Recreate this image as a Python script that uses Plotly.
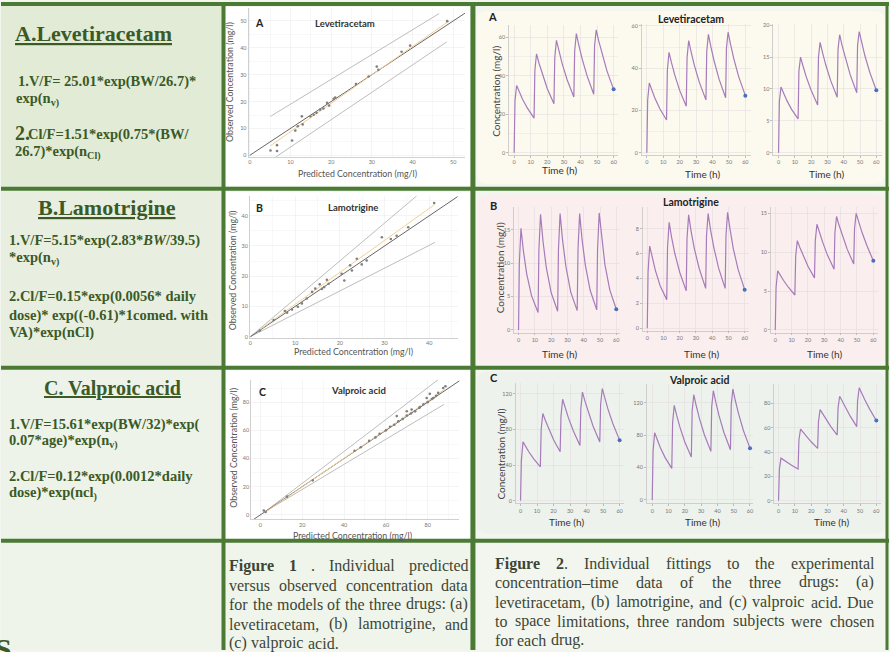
import plotly.graph_objects as go

W, H = 890, 652

# ---------------- Figure 1 data: predicted vs observed (mg/l) ----------------
lev_pred = [5.1, 6.7, 6.7, 10.4, 11.2, 11.8, 12.8, 13.0, 14.9, 15.7, 16.4, 17.3, 18.1, 19.0,
            19.5, 20.6, 21.0, 26.1, 29.2, 31.2, 31.6, 37.3, 39.4, 48.5]
lev_obs = [1.8, 3.8, 1.6, 5.5, 9.2, 10.8, 14.5, 11.5, 14.5, 15.1, 15.8, 17.0, 17.4, 19.5,
           18.5, 21.0, 21.5, 26.5, 29.3, 33.0, 31.8, 38.5, 40.8, 49.9]
ltg_pred = [2.1, 5.2, 7.7, 8.2, 9.3, 10.6, 11.5, 12.6, 13.8, 14.5, 15.5, 16.0, 16.5, 17.1, 17.5,
            20.4, 21.0, 22.3, 22.7, 23.8, 24.9, 26.0, 29.4, 31.4, 32.7, 35.3, 41.1]
ltg_obs = [2.0, 5.5, 8.5, 7.9, 9.0, 9.9, 11.0, 12.6, 14.8, 15.9, 17.3, 15.8, 16.4, 18.8, 17.5,
           20.8, 18.6, 23.6, 21.9, 25.8, 23.9, 25.2, 32.9, 32.3, 33.4, 36.2, 44.2]
vpa_pred = [1.6, 2.5, 12.7, 25, 45, 48, 52, 55, 57, 60, 62, 64, 65.2, 66, 68, 70, 70, 72, 72.3,
            74, 76, 76.3, 78, 79.5, 80, 81, 82, 82.7, 84, 85, 87.4, 88.5]
vpa_obs = [3.1, 2.0, 12.9, 24.5, 45.5, 48, 52.5, 55, 57.5, 60, 62.5, 64, 70.1, 66.5, 68, 70.5,
           73.6, 72, 74.8, 73.5, 76, 76.5, 78.5, 83, 80, 85.9, 82.3, 83, 84.5, 86.6, 90.1, 91.3]

# reference lines (x pair, y pair)
lev_identity = [0, 53.5]
lev_upper_x, lev_upper_y = [5.1, 46.5], [14.5, 52.7]
lev_lower_x, lev_lower_y = [6.5, 48.4], [-0.5, 42.2]
lev_fit_x, lev_fit_y = [5, 49], [3.5, 50]
ltg_identity = [0, 46.4]
ltg_upper_x, ltg_upper_y = [0, 37.2], [0, 46.6]
ltg_lower_x, ltg_lower_y = [0, 41.3], [0, 31.2]
ltg_fit_x, ltg_fit_y = [2, 41], [2.2, 43.5]
vpa_identity = [-4.4, 95.5]
vpa_upper_x, vpa_upper_y = [2, 85], [2, 96]
vpa_lower_x, vpa_lower_y = [2, 87.8], [2, 78.4]
vpa_fit_x, vpa_fit_y = [2, 88], [1.5, 89]

# ---------------- Figure 2 data: concentration-time (mg/l) ----------------
time_h = [0, 0.5, 1.5, 3, 5, 8, 12, 12.5, 13.5, 15, 17, 20, 24, 24.5, 25.5, 27, 29, 32, 36,
          36.5, 37.5, 39, 41, 44, 48, 48.5, 49.5, 51, 53, 56, 60]
lev_s1 = [0, 27, 35, 31.8, 28.0, 23.2, 18, 43, 51.5, 46.6, 40.8, 33.3, 25.5, 49.5, 58.5, 52.9,
          46.3, 37.9, 29, 53, 62, 56.0, 48.9, 40.0, 30.5, 55.5, 64, 58.2, 51.3, 42.5, 33]
lev_s2 = [0, 25, 33, 29.6, 25.6, 20.7, 15.5, 39, 47.5, 42.6, 36.8, 29.5, 22, 45, 53, 47.6,
          41.2, 33.3, 25, 48, 56, 50.2, 43.4, 34.8, 26, 49.5, 57, 51.2, 44.4, 35.9, 27]
lev_s3 = [0, 8, 10.3, 9.4, 8.25, 6.8, 5.3, 12.8, 15, 13.6, 11.9, 9.8, 7.5, 15, 17.3, 15.7,
          13.75, 11.3, 8.7, 16.2, 18.5, 16.8, 14.8, 12.2, 9.4, 16.8, 19, 17.3, 15.2, 12.6, 9.8]
ltg_s1 = [0, 10, 15.2, 11.8, 8.4, 5.1, 2.6, 12, 17.3, 13.3, 9.4, 5.6, 2.8, 12, 17.4, 13.5,
          9.6, 5.7, 2.9, 12, 17.4, 13.5, 9.7, 5.9, 3.0, 12, 17.5, 13.7, 9.8, 6.0, 3.1]
ltg_s2 = [0, 4.5, 6.6, 5.7, 4.65, 3.4, 2.3, 6.5, 8.5, 7.3, 6.0, 4.5, 3.0, 7.2, 9.1, 7.8, 6.4,
          4.8, 3.2, 7.4, 9.2, 7.9, 6.5, 4.8, 3.2, 7.4, 9.3, 7.95, 6.4, 4.7, 3.1]
ltg_s3 = [0, 5.5, 7.6, 7.05, 6.4, 5.5, 4.5, 9.5, 11.5, 10.65, 9.6, 8.2, 6.7, 11.5, 13.6, 12.6,
          11.3, 9.6, 7.8, 12.5, 14.6, 13.5, 12.2, 10.4, 8.5, 13.0, 15.0, 13.9, 12.6, 10.9, 8.9]
vpa_s1 = [0, 45, 66, 61, 54.9, 46.9, 38, 80, 98, 90.3, 80.9, 68.5, 55, 95, 114, 104.5, 93.0,
          78.2, 62, 103, 122, 111.8, 99.4, 83.4, 66, 108, 126, 115.4, 102.6, 86.1, 68]
vpa_s2 = [0, 60, 83, 74.5, 64.5, 52.0, 39, 95, 117, 104.5, 89.9, 71.7, 53, 110, 130, 116.4,
          100.5, 80.6, 60, 115, 135, 120.8, 104.2, 83.4, 62, 118, 137, 122.9, 106.3, 85.5, 64]
vpa_s3 = [0, 26, 35, 33.5, 31.7, 29.1, 26, 50, 59, 56.4, 53.1, 48.5, 43, 65, 75, 71.6, 67.2,
          61.2, 54, 76, 86, 81.9, 76.7, 69.6, 61, 82, 93, 88.5, 83.0, 75.2, 66]

# ---------------- helpers ----------------
def px(p):
    return p / W


def py(p):
    return 1 - p / H


GREEN_TXT = "#3b5a26"
BORDER = "#4b7a35"
CAP = "#3d4535"
SANS = "Lato, Open Sans, sans-serif"
SERIF = "Liberation Serif, Times New Roman, serif"

fig = go.Figure()
layout_axes = {}

# panel geometry: (dom_x0, dom_x1, x_zero_px, px_per_x, dom_ytop, dom_ybot, y_zero_px, px_per_y, xdtick, ydtick, yminor)
scatter_geo = [
    (248, 465, 249.3, 4.08, 6, 156, 154.3, 2.706, 10, 10, 5),
    (249.3, 457.7, 250, 4.48, 195, 337.7, 336.7, 3.04, 10, 10, 5),
    (250.7, 459.3, 260, 2.096, 380, 520.3, 516, 1.417, 20, 20, 10),
]
time_geo = [
    (509.3, 618.3, 514.3, 1.662, 22.7, 154, 151.7, 1.933, 10, 20, 10),
    (642.3, 751.7, 647.3, 1.645, 22.3, 154, 151.7, 2.128, 10, 20, 10),
    (774, 883.3, 779.3, 1.633, 22.3, 154, 151.7, 6.42, 10, 5, None),
    (514.3, 620, 518.7, 1.633, 206.7, 332.7, 330, 6.73, 10, 5, None),
    (643.3, 750, 647.7, 1.627, 206.7, 330.7, 328.3, 12.54, 10, 2, None),
    (771.7, 879.3, 776, 1.638, 206.7, 332.7, 330, 7.82, 10, 5, None),
    (516, 624, 520.7, 1.655, 383.3, 504.3, 501.7, 0.895, 10, 40, None),
    (647.3, 754, 652.7, 1.633, 384.3, 504.3, 501, 0.814, 10, 40, None),
    (775, 881.7, 779.3, 1.633, 384.3, 504.3, 501.7, 1.221, 10, 20, None),
]


def add_axes(i, g, scatter):
    dx0, dx1, x0p, sx, dyt, dyb, y0p, sy, xd, yd, ymin = g
    grid = "#ececec" if scatter else "#e3dede"
    tk = dict(ticks="") if scatter else dict(ticks="outside", ticklen=2, tickcolor="#bbb")
    xa = dict(domain=[px(dx0), px(dx1)], range=[(dx0 - x0p) / sx, (dx1 - x0p) / sx],
              anchor="y" if i == 1 else f"y{i}", tick0=0, dtick=xd,
              tickfont=dict(size=5.5, color="#777", family=SANS),
              showgrid=True, gridcolor=grid, gridwidth=0.6, zeroline=False,
              showline=True, linecolor="#c4c4c4", linewidth=0.8, fixedrange=True, **tk)
    ya = dict(domain=[py(dyb), py(dyt)], range=[(y0p - dyb) / sy, (y0p - dyt) / sy],
              anchor="x" if i == 1 else f"x{i}", tick0=0, dtick=yd,
              tickfont=dict(size=5.5, color="#777", family=SANS),
              showgrid=True, gridcolor=grid, gridwidth=0.6, zeroline=False,
              showline=True, linecolor="#c4c4c4", linewidth=0.8, fixedrange=True, **tk)
    if scatter:
        xa["minor"] = dict(dtick=xd / 2, tick0=0, showgrid=True, gridcolor="#f3f3f3")
        ya["minor"] = dict(dtick=ymin, tick0=0, showgrid=True, gridcolor="#f3f3f3")
    elif ymin:
        ya["minor"] = dict(dtick=ymin, tick0=0, showgrid=True, gridcolor="#ebe6e6")
    layout_axes["xaxis" if i == 1 else f"xaxis{i}"] = xa
    layout_axes["yaxis" if i == 1 else f"yaxis{i}"] = ya
    return ("x" if i == 1 else f"x{i}"), ("y" if i == 1 else f"y{i}")


scatter_sets = [
    (lev_pred, lev_obs, lev_identity, lev_upper_x, lev_upper_y, lev_lower_x, lev_lower_y, lev_fit_x, lev_fit_y),
    (ltg_pred, ltg_obs, ltg_identity, ltg_upper_x, ltg_upper_y, ltg_lower_x, ltg_lower_y, ltg_fit_x, ltg_fit_y),
    (vpa_pred, vpa_obs, vpa_identity, vpa_upper_x, vpa_upper_y, vpa_lower_x, vpa_lower_y, vpa_fit_x, vpa_fit_y),
]
for k, (g, s) in enumerate(zip(scatter_geo, scatter_sets)):
    xr, yr = add_axes(k + 1, g, True)
    pred, obs, ident, ux, uy, lx, ly, fx, fy = s
    for xs, ys, col, wd in [(ux, uy, "#bdbdbd", 1.0), (lx, ly, "#bdbdbd", 1.0),
                            (ident, ident, "#666666", 1.0), (fx, fy, "#f3cf96", 1.0)]:
        fig.add_trace(go.Scatter(x=xs, y=ys, mode="lines", line=dict(color=col, width=wd),
                                 xaxis=xr, yaxis=yr, showlegend=False, hoverinfo="skip"))
    fig.add_trace(go.Scatter(x=pred, y=obs, mode="markers",
                             marker=dict(size=2.6, color="#808080"),
                             xaxis=xr, yaxis=yr, showlegend=False))

time_sets = [lev_s1, lev_s2, lev_s3, ltg_s1, ltg_s2, ltg_s3, vpa_s1, vpa_s2, vpa_s3]
for k, (g, conc) in enumerate(zip(time_geo, time_sets)):
    xr, yr = add_axes(k + 4, g, False)
    fig.add_trace(go.Scatter(x=time_h, y=conc, mode="lines", line=dict(color="#a67bba", width=1.2),
                             xaxis=xr, yaxis=yr, showlegend=False))
    fig.add_trace(go.Scatter(x=time_h[-1:], y=conc[-1:], mode="markers",
                             marker=dict(size=4, color="#4a6fbf"),
                             xaxis=xr, yaxis=yr, showlegend=False))

# ---------------- shapes: table cells and borders ----------------
shapes = []


def rect(x0, y0, x1, y1, color):
    shapes.append(dict(type="rect", xref="paper", yref="paper", x0=px(x0), x1=px(x1),
                       y0=py(y1), y1=py(y0), fillcolor=color, line=dict(width=0), layer="below"))


def rrect(x0, y0, x1, y1, r, color):
    p = (f"M {px(x0 + r)} {py(y0)} L {px(x1 - r)} {py(y0)} Q {px(x1)} {py(y0)} {px(x1)} {py(y0 + r)} "
         f"L {px(x1)} {py(y1 - r)} Q {px(x1)} {py(y1)} {px(x1 - r)} {py(y1)} "
         f"L {px(x0 + r)} {py(y1)} Q {px(x0)} {py(y1)} {px(x0)} {py(y1 - r)} "
         f"L {px(x0)} {py(y0 + r)} Q {px(x0)} {py(y0)} {px(x0 + r)} {py(y0)} Z")
    shapes.append(dict(type="path", xref="paper", yref="paper", path=p, fillcolor=color,
                       line=dict(width=0), layer="below"))


def hline(y, x0, x1, w):
    shapes.append(dict(type="line", xref="paper", yref="paper", x0=px(x0), x1=px(x1),
                       y0=py(y), y1=py(y), line=dict(color=BORDER, width=w)))


def vline(x, y0, y1, w):
    shapes.append(dict(type="line", xref="paper", yref="paper", x0=px(x), x1=px(x),
                       y0=py(y0), y1=py(y1), line=dict(color=BORDER, width=w)))


rect(0, 0, 222, 188, "#e1ebd6")
rect(0, 188, 222, 368, "#e8efe1")
rect(0, 368, 222, 542, "#edf3e8")
rect(0, 542, 222, 652, "#eff4eb")
rect(222, 0, 473, 542, "#f2f6ee")
rect(225, 5, 470, 185, "#ffffff")
rect(225, 191, 470, 366, "#ffffff")
rect(225, 370, 470, 540, "#ffffff")
rect(222, 542, 473, 652, "#f0f5eb")
rect(473, 0, 890, 542, "#f2f6ef")
rrect(477, 9, 886, 183, 10, "#fcf9ef")
rrect(477, 194, 886, 364, 10, "#fbeeee")
rrect(477, 372, 886, 535, 10, "#edf2ed")
rect(473, 542, 890, 652, "#f2f6ee")

for yy in (2, 188, 368, 542):
    hline(yy, 0, 890, 4)
vline(223, 0, 652, 4)
vline(473, 0, 652, 5)
vline(888, 0, 652, 3)

# ---------------- annotations ----------------
ann = []


def text(x, y, s, size, color="#333", family=SANS, xanchor="center", angle=0, bold=False):
    ann.append(dict(x=px(x), y=py(y), xref="paper", yref="paper", text=s, showarrow=False,
                    xanchor=xanchor, yanchor="middle", textangle=angle, borderpad=0,
                    font=dict(size=size, color=color, family=family,
                              weight="bold" if bold else "normal")))


# left column formulas
text(93, 32, "<u>A.Levetiracetam</u>", 22, GREEN_TXT, SERIF, bold=True)
text(16, 80, "1.V/F= 25.01*exp(BW/26.7)*", 14.5, GREEN_TXT, SERIF, "left", bold=True)
text(14, 98, "exp(n<sub>v)</sub>", 14.5, GREEN_TXT, SERIF, "left", bold=True)
text(13, 132, "2.", 20, GREEN_TXT, SERIF, "left", bold=True)
text(26, 133, "Cl/F=1.51*exp(0.75*(BW/", 14.5, GREEN_TXT, SERIF, "left", bold=True)
text(13, 151, "26.7)*exp(n<sub>Cl)</sub>", 14.5, GREEN_TXT, SERIF, "left", bold=True)

text(106, 207, "<u>B.Lamotrigine</u>", 22, GREEN_TXT, SERIF, bold=True)
text(7, 240, "1.V/F=5.15*exp(2.83*<i>BW</i>/39.5)", 14.5, GREEN_TXT, SERIF, "left", bold=True)
text(7, 258, "*exp(n<sub>v)</sub>", 14.5, GREEN_TXT, SERIF, "left", bold=True)
text(7, 296, "2.Cl/F=0.15*exp(0.0056* daily", 14.5, GREEN_TXT, SERIF, "left", bold=True)
text(7, 315, "dose)* exp((-0.61)*1comed. with", 14.5, GREEN_TXT, SERIF, "left", bold=True)
text(7, 333, "VA)*exp(nCl)", 14.5, GREEN_TXT, SERIF, "left", bold=True)

text(112, 389, "<u>C. Valproic acid</u>", 20, GREEN_TXT, SERIF, bold=True)
text(7, 425, "1.V/F=15.61*exp(BW/32)*exp(", 14.5, GREEN_TXT, SERIF, "left", bold=True)
text(7, 442, "0.07*age)*exp(n<sub>v)</sub>", 14.5, GREEN_TXT, SERIF, "left", bold=True)
text(7, 477, "2.Cl/F=0.12*exp(0.0012*daily", 14.5, GREEN_TXT, SERIF, "left", bold=True)
text(7, 495, "dose)*exp(ncl<sub>)</sub>", 14.5, GREEN_TXT, SERIF, "left", bold=True)
text(-7, 650, "S", 30, GREEN_TXT, SERIF, "left", bold=True)

# scatter panel labels
for (lx, ly, lab), (tx, ty, ttl), (bx, by), (vx, vy) in [
        ((259, 21, "A"), (345, 22, "Levetiracetam"), (357, 172.5), (229, 80)),
        ((259, 207, "B"), (353, 207, "Lamotrigine"), (353, 351.5), (231.5, 270)),
        ((262, 392, "C"), (358, 391, "Valproic acid"), (352, 536.5), (233, 448))]:
    text(lx, ly, lab, 10.5, "#222", SANS, bold=True)
    text(tx, ty, ttl, 9.5, "#333", SANS, bold=True)
    text(bx, by, "Predicted Concentration (mg/l)", 8.8, "#555", SANS)
    text(vx, vy, "Observed Concentration (mg/l)", 8.8, "#555", SANS, angle=-90)

# time panel labels
for (lx, ly, lab), (tx, ty, ttl), (vx, vy), times in [
        ((493, 15, "A"), (692, 17, "Levetiracetam"), (496.5, 90), [(560, 169.5), (703, 173), (827, 173)]),
        ((494, 205, "B"), (692, 201, "Lamotrigine"), (500, 267), [(560, 354), (702, 354), (825, 354)]),
        ((494, 378, "C"), (700, 380, "Valproic acid"), (501.5, 455), [(567, 523), (703, 523), (832, 523)])]:
    text(lx, ly, lab, 11, "#222", SANS, bold=True)
    text(tx, ty, ttl, 10.5, "#222", SANS, bold=True)
    text(vx, vy, "Concentration (mg/l)", 10, "#444", SANS, angle=-90)
    for (qx, qy) in times:
        text(qx, qy, "Time (h)", 10, "#333", SANS)

# captions (justified by word placement, Times metrics)
TW = {" ": 250, "(": 333, ")": 333, ",": 250, "-": 333, ".": 250, ":": 278, "–": 500}
TW.update({d: 500 for d in "0123456789"})
TW.update(dict(zip("ABCDEFGHIJKLMNOPQRSTUVWXYZ",
                   [722, 667, 667, 722, 611, 556, 722, 722, 333, 389, 722, 611, 889, 722, 722, 556,
                    722, 667, 556, 611, 722, 722, 944, 722, 722, 611])))
TW.update(dict(zip("abcdefghijklmnopqrstuvwxyz",
                   [444, 500, 444, 500, 444, 333, 500, 500, 278, 278, 500, 278, 778, 500, 500, 500,
                    500, 333, 389, 278, 500, 500, 722, 500, 500, 444])))
TWB = {"F": 611, "i": 278, "g": 500, "u": 556, "r": 444, "e": 444}
CS = 16


def wwidth(w, bold):
    tab = dict(TW)
    if bold:
        tab.update(TWB)
    return sum(tab.get(c, 500) for c in w) * CS / 1000.0


def caption(lines, ys, x0, x1):
    for li, (words, yv) in enumerate(zip(lines, ys)):
        widths = [wwidth(w, b) for w, b in words]
        last = li == len(lines) - 1
        gap = 250 * CS / 1000.0 if last or len(words) < 2 else (x1 - x0 - sum(widths)) / (len(words) - 1)
        xc = x0
        for (w, b), wd in zip(words, widths):
            s = f"<b>{w}</b>" if b else w
            if w == "2." and b:
                s = "<b>2</b>."
            text(xc, yv, s, CS, CAP, SERIF, "left")
            xc += wd + gap


def split(line, bold_words=()):
    return [(w, w in bold_words) for w in line.split(" ")]


cap1 = [split("Figure 1 . Individual predicted", ("Figure", "1")),
        split("versus observed concentration data"),
        split("for the models of the three drugs: (a)"),
        split("levetiracetam, (b) lamotrigine, and"),
        split("(c) valproic acid.")]
cap2 = [split("Figure 2. Individual fittings to the experimental", ("Figure", "2.")),
        split("concentration–time data of the three drugs: (a)"),
        split("levetiracetam, (b) lamotrigine, and (c) valproic acid. Due"),
        split("to space limitations, three random subjects were chosen"),
        split("for each drug.")]
caption(cap1, [567, 587, 606, 626, 645], 228, 467)
caption(cap2, [565, 584, 604, 623, 642], 494, 874)

fig.update_layout(width=W, height=H, autosize=False, margin=dict(l=0, r=0, t=0, b=0),
                  paper_bgcolor="#f2f6ee", plot_bgcolor="rgba(0,0,0,0)",
                  shapes=shapes, annotations=ann, showlegend=False, **layout_axes)

fig.write_html("out.html", config={"displayModeBar": False, "staticPlot": True},
               post_script="document.body.style.margin='0';document.body.style.overflow='hidden';")
